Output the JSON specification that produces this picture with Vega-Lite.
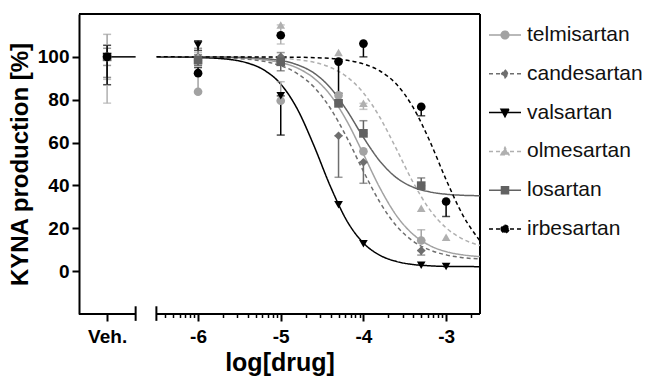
{
  "$schema": "https://vega.github.io/schema/vega-lite/v6.json",
  "width": 401,
  "height": 300,
  "autosize": {"type": "none"},
  "padding": {"left": 79, "top": 14, "right": 166, "bottom": 62},
  "background": "white",
  "config": {"view": {"stroke": null}, "font": "Liberation Sans"},
  "datasets": {
    "frame": [
      {"x": -7.44, "x2": -2.59, "y": 120, "y2": 120},
      {"x": -2.59, "x2": -2.59, "y": -20, "y2": 120},
      {"x": -7.44, "x2": -6.755, "y": -20, "y2": -20},
      {"x": -6.504, "x2": -2.59, "y": -20, "y2": -20},
      {"x": -6.755, "x2": -6.755, "y": -16.4, "y2": -23.2},
      {"x": -6.504, "x2": -6.504, "y": -16.4, "y2": -23.2}
    ],
    "vehline": [{"x": -7.1, "x2": -6.755, "y": 100, "y2": 100}],
    "curves": [
      {"drug": "telmisartan", "x": -6.5, "y": 100}, {"drug": "telmisartan", "x": -6.0, "y": 99.9}, {"drug": "telmisartan", "x": -5.5, "y": 99.5}, {"drug": "telmisartan", "x": -5.0, "y": 97.3}, {"drug": "telmisartan", "x": -4.8, "y": 94.8}, {"drug": "telmisartan", "x": -4.6, "y": 90.1}, {"drug": "telmisartan", "x": -4.4, "y": 82.2}, {"drug": "telmisartan", "x": -4.2, "y": 70.0}, {"drug": "telmisartan", "x": -4.0, "y": 54.6}, {"drug": "telmisartan", "x": -3.8, "y": 38.8}, {"drug": "telmisartan", "x": -3.6, "y": 25.9}, {"drug": "telmisartan", "x": -3.4, "y": 17.2}, {"drug": "telmisartan", "x": -3.2, "y": 12.0}, {"drug": "telmisartan", "x": -3.0, "y": 9.1}, {"drug": "telmisartan", "x": -2.8, "y": 7.6}, {"drug": "telmisartan", "x": -2.59, "y": 6.8},
      {"drug": "candesartan", "x": -6.5, "y": 100}, {"drug": "candesartan", "x": -6.0, "y": 99.8}, {"drug": "candesartan", "x": -5.5, "y": 99.2}, {"drug": "candesartan", "x": -5.0, "y": 95.9}, {"drug": "candesartan", "x": -4.8, "y": 92.2}, {"drug": "candesartan", "x": -4.6, "y": 86.0}, {"drug": "candesartan", "x": -4.4, "y": 76.0}, {"drug": "candesartan", "x": -4.2, "y": 62.3}, {"drug": "candesartan", "x": -4.0, "y": 46.6}, {"drug": "candesartan", "x": -3.8, "y": 32.1}, {"drug": "candesartan", "x": -3.6, "y": 21.1}, {"drug": "candesartan", "x": -3.4, "y": 14.0}, {"drug": "candesartan", "x": -3.2, "y": 9.9}, {"drug": "candesartan", "x": -3.0, "y": 7.6}, {"drug": "candesartan", "x": -2.8, "y": 6.3}, {"drug": "candesartan", "x": -2.59, "y": 5.7},
      {"drug": "valsartan", "x": -6.5, "y": 100}, {"drug": "valsartan", "x": -6.0, "y": 99.7}, {"drug": "valsartan", "x": -5.6, "y": 98.7}, {"drug": "valsartan", "x": -5.4, "y": 97.1}, {"drug": "valsartan", "x": -5.2, "y": 93.8}, {"drug": "valsartan", "x": -5.0, "y": 87.3}, {"drug": "valsartan", "x": -4.8, "y": 75.7}, {"drug": "valsartan", "x": -4.6, "y": 58.7}, {"drug": "valsartan", "x": -4.4, "y": 39.6}, {"drug": "valsartan", "x": -4.2, "y": 23.5}, {"drug": "valsartan", "x": -4.0, "y": 13.1}, {"drug": "valsartan", "x": -3.8, "y": 7.4}, {"drug": "valsartan", "x": -3.6, "y": 4.5}, {"drug": "valsartan", "x": -3.4, "y": 3.1}, {"drug": "valsartan", "x": -3.2, "y": 2.5}, {"drug": "valsartan", "x": -3.0, "y": 2.2}, {"drug": "valsartan", "x": -2.59, "y": 2.1},
      {"drug": "olmesartan", "x": -6.5, "y": 100}, {"drug": "olmesartan", "x": -5.5, "y": 100}, {"drug": "olmesartan", "x": -5.0, "y": 99.4}, {"drug": "olmesartan", "x": -4.8, "y": 98.7}, {"drug": "olmesartan", "x": -4.6, "y": 97.5}, {"drug": "olmesartan", "x": -4.4, "y": 95.1}, {"drug": "olmesartan", "x": -4.2, "y": 90.7}, {"drug": "olmesartan", "x": -4.0, "y": 83.2}, {"drug": "olmesartan", "x": -3.8, "y": 71.7}, {"drug": "olmesartan", "x": -3.6, "y": 56.9}, {"drug": "olmesartan", "x": -3.4, "y": 41.5}, {"drug": "olmesartan", "x": -3.2, "y": 28.8}, {"drug": "olmesartan", "x": -3.0, "y": 20.2}, {"drug": "olmesartan", "x": -2.8, "y": 15.0}, {"drug": "olmesartan", "x": -2.59, "y": 12.0},
      {"drug": "losartan", "x": -6.5, "y": 100}, {"drug": "losartan", "x": -6.0, "y": 100}, {"drug": "losartan", "x": -5.5, "y": 99.8}, {"drug": "losartan", "x": -5.0, "y": 98.3}, {"drug": "losartan", "x": -4.8, "y": 96.3}, {"drug": "losartan", "x": -4.6, "y": 92.5}, {"drug": "losartan", "x": -4.4, "y": 85.6}, {"drug": "losartan", "x": -4.2, "y": 75.0}, {"drug": "losartan", "x": -4.0, "y": 62.4}, {"drug": "losartan", "x": -3.8, "y": 51.3}, {"drug": "losartan", "x": -3.6, "y": 43.6}, {"drug": "losartan", "x": -3.4, "y": 39.2}, {"drug": "losartan", "x": -3.2, "y": 37.0}, {"drug": "losartan", "x": -3.0, "y": 35.9}, {"drug": "losartan", "x": -2.8, "y": 35.4}, {"drug": "losartan", "x": -2.59, "y": 35.2},
      {"drug": "irbesartan", "x": -6.5, "y": 100}, {"drug": "irbesartan", "x": -5.0, "y": 99.9}, {"drug": "irbesartan", "x": -4.5, "y": 99.5}, {"drug": "irbesartan", "x": -4.2, "y": 98.4}, {"drug": "irbesartan", "x": -4.0, "y": 96.7}, {"drug": "irbesartan", "x": -3.8, "y": 93.4}, {"drug": "irbesartan", "x": -3.6, "y": 87.2}, {"drug": "irbesartan", "x": -3.4, "y": 76.5}, {"drug": "irbesartan", "x": -3.2, "y": 60.9}, {"drug": "irbesartan", "x": -3.0, "y": 42.7}, {"drug": "irbesartan", "x": -2.8, "y": 26.3}, {"drug": "irbesartan", "x": -2.59, "y": 14.1}
    ],
    "points": [
      {"drug": "telmisartan", "x": -7.1, "y": 100, "lo": 89.5, "hi": 110.5},
      {"drug": "candesartan", "x": -7.1, "y": 100, "lo": 96, "hi": 104},
      {"drug": "olmesartan", "x": -7.1, "y": 100, "lo": 78.4, "hi": 100},
      {"drug": "losartan", "x": -7.1, "y": 100, "lo": 90.4, "hi": 100},
      {"drug": "valsartan", "x": -7.1, "y": 100, "lo": 87, "hi": 105.4},
      {"drug": "irbesartan", "x": -7.1, "y": 100},
      {"drug": "telmisartan", "x": -6, "y": 83.7, "lo": 83.7, "hi": 92},
      {"drug": "candesartan", "x": -6, "y": 100, "lo": 96, "hi": 104},
      {"drug": "olmesartan", "x": -6, "y": 100, "lo": 98, "hi": 102},
      {"drug": "losartan", "x": -6, "y": 98.5, "lo": 96, "hi": 101},
      {"drug": "valsartan", "x": -6, "y": 105.5, "lo": 103, "hi": 107.5},
      {"drug": "irbesartan", "x": -6, "y": 92.4, "lo": 92.4, "hi": 95},
      {"drug": "telmisartan", "x": -5, "y": 79.5, "lo": 79.5, "hi": 88.4},
      {"drug": "candesartan", "x": -5, "y": 100, "lo": 98, "hi": 102},
      {"drug": "olmesartan", "x": -5, "y": 114.9, "lo": 106, "hi": 114.9},
      {"drug": "losartan", "x": -5, "y": 97.7, "lo": 93.5, "hi": 97.7},
      {"drug": "valsartan", "x": -5, "y": 81.8, "lo": 63.5, "hi": 81.8},
      {"drug": "irbesartan", "x": -5, "y": 110.1},
      {"drug": "telmisartan", "x": -4.301, "y": 82},
      {"drug": "candesartan", "x": -4.301, "y": 63.2, "lo": 43.8, "hi": 63.2},
      {"drug": "olmesartan", "x": -4.301, "y": 102},
      {"drug": "losartan", "x": -4.301, "y": 78.3, "lo": 78.3, "hi": 80},
      {"drug": "valsartan", "x": -4.301, "y": 31},
      {"drug": "irbesartan", "x": -4.301, "y": 97.8, "lo": 83, "hi": 97.8},
      {"drug": "telmisartan", "x": -4, "y": 55.9},
      {"drug": "candesartan", "x": -4, "y": 50.8, "lo": 41, "hi": 50.8},
      {"drug": "olmesartan", "x": -4, "y": 78.3, "lo": 75.5, "hi": 78.3},
      {"drug": "losartan", "x": -4, "y": 64.3, "lo": 64.3, "hi": 70.2},
      {"drug": "valsartan", "x": -4, "y": 12.8},
      {"drug": "irbesartan", "x": -4, "y": 106.2, "lo": 100, "hi": 106.2},
      {"drug": "telmisartan", "x": -3.301, "y": 14.3, "lo": 14.3, "hi": 19.3},
      {"drug": "candesartan", "x": -3.301, "y": 9.6, "lo": 7.5, "hi": 9.6},
      {"drug": "olmesartan", "x": -3.301, "y": 29.3},
      {"drug": "losartan", "x": -3.301, "y": 39.9, "lo": 39.9, "hi": 43.5},
      {"drug": "valsartan", "x": -3.301, "y": 2.7},
      {"drug": "irbesartan", "x": -3.301, "y": 76.7, "lo": 72.5, "hi": 76.7},
      {"drug": "olmesartan", "x": -3, "y": 15.8},
      {"drug": "valsartan", "x": -3, "y": 2.2},
      {"drug": "irbesartan", "x": -3, "y": 32.5, "lo": 25.5, "hi": 32.5}
    ]
  },
  "encoding": {
    "x": {
      "field": "x", "type": "quantitative",
      "scale": {"type": "linear", "domain": [-7.44, -2.59], "nice": false, "zero": false},
      "axis": {
        "values": [-7.1, -6.398, -6.301, -6.222, -6.155, -6.097, -6.046, -6, -5.699, -5.523, -5.398, -5.301, -5.222, -5.155, -5.097, -5.046, -5, -4.699, -4.523, -4.398, -4.301, -4.222, -4.155, -4.097, -4.046, -4, -3.699, -3.523, -3.398, -3.301, -3.222, -3.155, -3.097, -3.046, -3, -2.699],
        "domain": false, "grid": false, "tickColor": "black",
        "tickSize": {"condition": {"test": "datum.value < -7 || datum.value == round(datum.value)", "value": 7}, "value": 3.5},
        "tickWidth": {"condition": {"test": "datum.value < -7 || datum.value == round(datum.value)", "value": 2}, "value": 1.5},
        "labelExpr": "datum.value < -7 ? 'Veh.' : (datum.value == round(datum.value) ? '-' + abs(datum.value) : '')",
        "labelFont": "Liberation Sans", "labelFontSize": 19, "labelFontWeight": "bold", "labelColor": "black",
        "labelPadding": 6, "labelOverlap": false, "labelFlush": false, "labelBound": false,
        "title": "log[drug]", "titleFont": "Liberation Sans", "titleFontSize": 25, "titleFontWeight": "bold", "titleColor": "black", "titlePadding": 4
      }
    },
    "y": {
      "field": "y", "type": "quantitative",
      "scale": {"domain": [-20, 120], "nice": false, "zero": false},
      "axis": {
        "values": [0, 20, 40, 60, 80, 100], "grid": false,
        "domainColor": "black", "domainWidth": 2, "tickColor": "black", "tickWidth": 2, "tickSize": 7,
        "labelFont": "Liberation Sans", "labelFontSize": 19, "labelFontWeight": "bold", "labelColor": "black", "labelPadding": 3,
        "title": "KYNA production [%]", "titleFont": "Liberation Sans", "titleFontSize": 24, "titleFontWeight": "bold", "titleColor": "black", "titlePadding": 5
      }
    }
  },
  "layer": [
    {
      "data": {"name": "frame"},
      "mark": {"type": "rule", "color": "black", "strokeWidth": 2},
      "encoding": {"x2": {"field": "x2"}, "y2": {"field": "y2"}}
    },
    {
      "data": {"name": "vehline"},
      "mark": {"type": "rule", "color": "black", "strokeWidth": 1.5},
      "encoding": {"x2": {"field": "x2"}, "y2": {"field": "y2"}}
    },
    {
      "data": {"name": "curves"},
      "mark": {"type": "line", "strokeWidth": 1.5, "interpolate": "monotone"},
      "encoding": {
        "color": {
          "field": "drug", "type": "nominal",
          "scale": {"domain": ["telmisartan", "candesartan", "valsartan", "olmesartan", "losartan", "irbesartan"], "range": ["#a2a2a2", "#6e6e6e", "#000000", "#b0b0b0", "#626262", "#000000"]},
          "legend": {
            "title": null, "orient": "right", "offset": 1, "padding": 4, "rowPadding": 11.8,
            "symbolSize": 1024, "symbolStrokeWidth": 1.5, "labelOffset": 5,
            "labelFont": "Liberation Sans", "labelFontSize": 21, "labelColor": "#111111", "labelLimit": 200,
            "encode": {
              "symbols": {
                "update": {
                  "shape": {"signal": "datum.value == 'telmisartan' || datum.value == 'irbesartan' ? 'M-1,0L1,0M-0.24,0A0.24,0.24,0,1,0,0.24,0A0.24,0.24,0,1,0,-0.24,0Z' : datum.value == 'candesartan' ? 'M-1,0L1,0M0,-0.25L0.21,0L0,0.25L-0.21,0Z' : datum.value == 'valsartan' ? 'M-1,0L1,0M-0.25,-0.21L0.25,-0.21L0,0.25Z' : datum.value == 'olmesartan' ? 'M-1,0L1,0M-0.25,0.21L0.25,0.21L0,-0.25Z' : 'M-1,0L1,0M-0.22,-0.22L0.22,-0.22L0.22,0.22L-0.22,0.22Z'"},
                  "fill": {"signal": "scale('color', datum.value)"},
                  "stroke": {"signal": "scale('color', datum.value)"},
                  "strokeDash": {"signal": "scale('strokeDash', datum.value)"},
                  "strokeWidth": {"value": 1.5},
                  "opacity": {"value": 1}
                }
              }
            }
          }
        },
        "strokeDash": {
          "field": "drug", "type": "nominal",
          "scale": {"domain": ["telmisartan", "candesartan", "valsartan", "olmesartan", "losartan", "irbesartan"], "range": [[1, 0], [4, 3], [1, 0], [4, 3], [1, 0], [4, 3]]}
        }
      }
    },
    {
      "data": {"name": "points"},
      "transform": [{"filter": "isValid(datum.lo)"}],
      "mark": {"type": "errorbar", "ticks": {"size": 8}, "thickness": 1.5},
      "encoding": {
        "y": {"field": "lo", "type": "quantitative", "title": "KYNA production [%]"},
        "y2": {"field": "hi"},
        "color": {"field": "drug", "type": "nominal"}
      }
    },
    {
      "data": {"name": "points"},
      "mark": {"type": "point", "filled": true, "opacity": 1, "size": 75},
      "encoding": {
        "color": {"field": "drug", "type": "nominal"},
        "shape": {
          "field": "drug", "type": "nominal", "legend": null,
          "scale": {"domain": ["irbesartan", "losartan", "olmesartan", "valsartan", "candesartan", "telmisartan"], "range": ["circle", "square", "triangle-up", "triangle-down", "diamond", "circle"]}
        }
      }
    }
  ]
}
